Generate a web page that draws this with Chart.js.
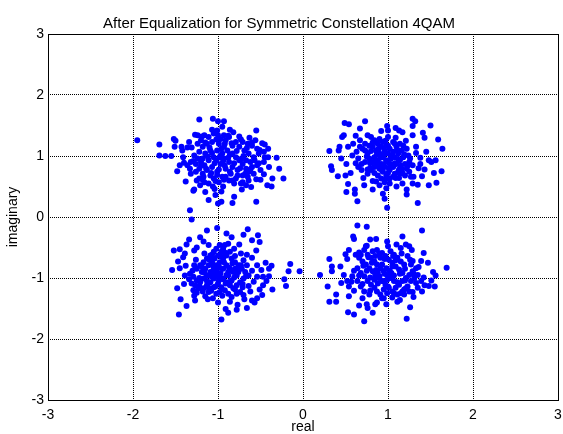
<!DOCTYPE html>
<html>
<head>
<meta charset="utf-8">
<script src="https://cdn.jsdelivr.net/npm/chart.js@4/dist/chart.umd.min.js"></script>
<style>
  html, body { margin: 0; padding: 0; background: #fff; }
  #wrap { width: 563px; height: 434px; }
</style>
</head>
<body>
<div id="wrap"><canvas id="constChart" width="563" height="434"></canvas></div>
<script>
// symbols after equalization, [real, imaginary]
const topLeft = [
  [-1.95,1.26],[-1.69,1.19],[-1.69,1.01],[-1.62,1.00],[-1.55,1.00],[-1.52,1.28],[-1.50,1.25],[-1.51,1.15],
  [-1.43,1.15],[-1.42,1.09],[-1.36,1.14],[-1.31,1.14],[-1.22,1.60],[-1.06,1.61],[-1.00,1.57],[-0.93,1.57],
  [-1.07,1.43],[-1.05,1.37],[-1.27,1.35],[-1.24,1.34],[-1.19,1.32],[-1.11,1.31],[-1.00,1.34],[-0.93,1.34],
  [-0.86,1.43],[-0.82,1.39],[-0.87,1.31],[-0.75,1.32],[-0.63,1.30],[-0.55,1.42],[-0.56,1.26],[-0.48,1.21],
  [-0.45,1.19],[-0.41,1.12],[-0.46,1.07],[-0.41,0.98],[-0.31,0.97],[-0.46,0.90],[-0.28,0.79],[-0.23,0.63],
  [-0.36,0.63],[-0.46,0.70],[-0.50,0.61],[-0.42,0.52],[-0.37,0.50],[-0.55,0.25],[-0.61,0.49],[-0.67,0.52],
  [-0.71,0.57],[-0.81,0.33],[-0.83,0.23],[-0.96,0.25],[-1.00,0.22],[-1.03,0.36],[-1.11,0.28],[-1.15,0.41],
  [-1.04,0.46],[-0.94,0.50],[-0.93,0.61],[-1.28,0.45],[-1.29,0.43],[-1.25,0.60],[-1.32,0.71],[-1.48,0.75],
  [-1.45,0.85],[-1.40,0.89],[-1.33,0.11],
  [-1.28,1.01],[-1.24,0.96],[-1.20,0.90],[-1.16,0.85],[-1.22,0.79],[-1.26,0.74],[-1.18,0.71],[-1.13,0.77],
  [-1.09,0.68],[-1.05,0.63],[-0.99,0.57],[-0.95,0.66],[-1.01,0.74],[-1.07,0.82],[-1.11,0.93],[-1.15,1.04],
  [-1.18,1.15],[-1.13,1.20],[-1.07,1.23],[-0.99,1.20],[-0.93,1.15],[-0.89,1.09],[-0.83,1.04],[-0.79,0.98],
  [-0.75,0.93],[-0.71,0.87],[-0.67,0.79],[-0.64,0.74],[-0.65,0.66],[-0.71,0.68],[-0.77,0.77],[-0.83,0.82],
  [-0.87,0.90],[-0.93,0.96],[-0.97,0.87],[-0.91,0.79],[-0.85,0.71],[-0.79,0.63],[-0.73,0.55],[-0.81,0.55],
  [-0.87,0.60],[-0.95,1.04],[-1.01,1.09],[-1.05,0.98],[-1.09,1.09],[-0.75,1.15],[-0.69,1.09],[-0.64,1.04],
  [-0.58,0.98],[-0.52,1.04],[-0.54,1.12],[-0.60,1.17],[-0.65,1.20],[-0.71,1.23],[-0.79,1.23],[-0.83,1.17],
  [-0.54,0.85],[-0.60,0.82],[-0.50,0.77],[-0.58,0.71],[-0.64,0.60],[-0.67,0.93],[-0.62,0.90],[-1.24,1.20],
  [-1.20,1.26],[-1.16,1.34],[-0.97,1.28],[-0.91,1.26],[-1.01,1.42],[-0.95,1.48],[-1.22,0.63],[-1.16,0.57],
  [-1.11,0.55],[-1.36,0.85],[-1.32,0.90],[-1.26,0.87],[-1.18,0.96],
  [-1.02,0.93],[-0.97,1.01],[-0.88,0.97],[-0.92,0.84],[-1.04,0.88],[-1.12,0.99],[-0.78,1.08],[-0.70,1.00],
  [-0.74,0.80],[-0.86,0.74],[-0.99,0.78],[-1.08,0.72],[-1.20,0.84],[-1.29,0.92],[-1.22,1.07],[-1.10,1.14],
  [-0.96,1.12],[-0.84,1.21],[-0.66,1.13],[-0.57,0.93],[-0.62,0.78],[-0.77,0.68],[-0.91,0.66],[-1.03,0.59],
  [-1.17,0.66],[-1.33,0.79],[-1.41,0.98],[-1.34,1.23],[-1.15,1.22],[-1.02,1.27],[-0.88,1.33],[-0.73,1.27],
  [-0.60,1.22],[-0.51,1.10],[-0.45,0.98],[-0.52,0.88],[-0.68,0.71],[-0.83,0.60],[-1.06,0.50],[-1.21,0.52],
  [-0.98,0.98],[-0.94,0.92],[-1.07,1.05],[-0.81,0.88],[-0.86,1.02],[-0.73,0.95],[-1.14,0.79],[-1.01,0.69],
  [-0.92,1.20],[-1.18,0.61],[-0.96,0.42],[-0.72,0.45],[-0.55,0.62],[-1.38,0.58],[-0.40,0.82]
];
const topRight = [
  [0.31,1.08],[0.49,1.54],[0.54,1.52],[0.46,1.31],[0.48,1.34],[0.43,1.15],[0.42,1.09],[0.33,0.83],
  [0.34,0.77],[0.41,0.67],[0.45,0.96],[0.51,0.87],[0.53,0.54],[0.51,0.41],[0.61,0.45],[0.61,0.38],
  [0.64,0.26],[0.59,1.20],[0.67,1.45],[0.73,1.57],[0.76,1.34],[0.80,1.31],[0.92,1.41],[0.99,1.49],
  [1.00,1.42],[1.09,1.46],[1.13,1.42],[1.17,1.39],[1.29,1.61],[1.32,1.57],[1.29,1.49],[1.29,1.34],
  [1.41,1.38],[1.43,1.30],[1.50,1.50],[1.59,1.27],[1.64,1.12],[1.33,1.15],[1.24,1.01],[1.38,0.97],
  [1.38,0.87],[1.48,0.93],[1.51,0.90],[1.56,0.93],[1.43,0.78],[1.54,0.72],[1.63,0.75],[1.57,0.56],
  [1.48,0.52],[1.35,0.53],[1.29,0.55],[1.35,0.23],[1.22,0.45],[1.22,0.37],[0.99,0.15],[0.96,0.30],
  [0.94,0.38],[0.90,0.52],[1.02,0.55],[1.09,0.64],[1.13,0.64],[0.82,0.59],[0.76,0.78],[0.69,0.77],
  [0.73,1.09],[0.76,1.04],[0.78,0.96],[0.82,0.90],[0.86,0.85],[0.90,0.79],[0.94,0.74],[0.98,0.68],
  [1.02,0.77],[1.06,0.82],[1.10,0.87],[1.14,0.93],[1.18,0.98],[1.20,0.87],[1.16,0.79],[1.12,0.74],
  [1.08,0.71],[1.02,0.87],[0.98,0.93],[0.94,0.98],[0.90,1.04],[0.86,1.09],[0.82,1.15],[0.88,1.20],
  [0.94,1.23],[0.98,1.17],[1.02,1.12],[1.06,1.07],[1.10,1.15],[1.14,1.20],[1.18,1.17],[1.22,1.12],
  [1.06,1.23],[1.00,1.31],[0.90,1.28],[0.84,1.26],[0.73,1.20],[0.67,1.15],[0.63,1.07],[0.65,0.96],
  [0.69,0.87],[0.73,0.90],[0.67,1.26],[0.78,1.17],[0.92,0.87],[0.96,0.82],[1.00,1.04],[1.04,0.98],
  [0.88,0.93],[0.84,0.98],[1.22,0.79],[1.25,0.74],[1.27,0.66],[1.20,0.68],[1.14,0.71],[0.92,0.63],
  [0.88,0.68],[0.96,0.57],[1.08,0.98],[1.12,1.04],[1.25,0.90],[1.29,0.85],[0.65,0.82],[0.76,0.71],
  [0.80,0.77],[0.96,1.09],[0.92,1.15],[1.16,1.09],[0.84,0.82],[1.02,0.63],
  [0.98,0.91],[1.03,0.95],[0.95,0.86],[1.08,0.88],[0.91,0.97],[0.87,0.89],[1.05,1.01],[1.12,0.95],
  [1.15,0.84],[1.01,0.80],[0.93,0.76],[0.84,0.72],[0.79,0.88],[0.75,0.99],[0.80,1.08],[0.89,1.12],
  [1.00,1.17],[1.11,1.10],[1.19,1.03],[1.26,0.96],[1.23,0.84],[1.17,0.72],[1.06,0.66],[0.97,0.62],
  [0.86,0.58],[0.71,0.64],[0.62,0.88],[0.58,1.01],[0.70,1.12],[0.82,1.22],[0.97,1.25],[1.09,1.30],
  [1.21,1.25],[1.33,1.05],[1.36,0.80],[1.30,0.66],[1.10,0.50],[0.98,0.47],[0.82,0.45],[0.56,0.72],
  [0.53,1.15],[0.62,1.33],[0.95,1.02],[1.04,0.84],[0.90,0.82],[1.00,0.72],[1.13,0.78],[0.79,0.80],
  [0.87,1.03],[1.08,1.20],[1.40,0.67],[0.72,0.52],[1.45,1.07],[0.50,0.68],[1.17,0.55]
];
const bottomLeft = [
  [-1.31,-0.04],[-1.13,-0.22],[-1.01,-0.18],[-1.21,-0.33],[-1.17,-0.40],[-1.34,-0.37],[-1.37,-0.45],[-1.52,-0.55],
  [-1.45,-0.53],[-1.39,-0.60],[-1.41,-0.66],[-1.47,-0.73],[-1.45,-0.84],[-1.54,-0.87],[-1.28,-0.55],[-1.28,-0.79],
  [-1.33,-0.93],[-1.48,-1.17],[-1.37,-1.46],[-1.46,-1.60],[-1.27,-1.37],[-1.25,-1.24],[-1.15,-1.30],[-1.11,-1.16],
  [-1.06,-1.33],[-1.00,-1.40],[-0.91,-1.51],[-0.88,-1.57],[-0.96,-1.68],[-0.78,-1.52],[-0.77,-1.44],[-0.66,-1.49],
  [-0.57,-1.40],[-0.60,-1.37],[-0.54,-1.33],[-0.48,-1.28],[-0.51,-1.19],[-0.47,-1.12],[-0.36,-1.19],[-0.64,-1.13],
  [-0.71,-1.15],[-0.65,-0.20],[-0.53,-0.30],[-0.51,-0.41],[-0.60,-0.38],[-0.70,-0.29],[-0.84,-0.33],[-0.90,-0.27],
  [-0.81,-0.52],[-0.73,-0.60],[-0.60,-0.67],[-0.54,-0.79],[-0.44,-0.75],[-0.49,-0.87],[-0.40,-0.85],[-0.37,-0.80],
  [-0.40,-0.97],[-0.47,-0.98],[-0.54,-0.98],[-0.22,-1.02],[-0.20,-1.13],[-0.17,-0.89],[-0.15,-0.77],[-0.04,-0.89],
  [-1.29,-0.98],[-1.25,-1.04],[-1.31,-1.09],[-1.27,-1.12],[-1.21,-1.07],[-1.17,-1.01],[-1.13,-0.96],[-1.09,-0.90],
  [-1.05,-0.85],[-1.02,-0.79],[-0.98,-0.74],[-0.94,-0.68],[-0.90,-0.63],[-0.86,-0.57],[-0.94,-0.52],[-0.98,-0.46],
  [-1.02,-0.52],[-1.05,-0.57],[-1.09,-0.63],[-1.13,-0.68],[-1.17,-0.74],[-1.21,-0.79],[-1.25,-0.85],[-1.19,-0.90],
  [-1.15,-0.85],[-1.11,-0.79],[-1.07,-0.74],[-1.04,-0.68],[-1.00,-0.63],[-0.96,-0.57],[-0.92,-0.46],[-0.88,-0.44],
  [-0.84,-0.68],[-0.80,-0.74],[-0.76,-0.79],[-0.72,-0.85],[-0.68,-0.90],[-0.64,-0.96],[-0.70,-1.01],[-0.74,-1.07],
  [-0.78,-1.12],[-0.82,-1.17],[-0.86,-1.12],[-0.90,-1.07],[-0.94,-1.01],[-0.98,-0.96],[-1.02,-0.90],[-1.05,-1.01],
  [-1.09,-1.07],[-1.13,-1.12],[-1.17,-1.17],[-1.11,-1.23],[-1.05,-1.15],[-1.00,-1.09],[-0.96,-1.15],[-0.92,-1.20],
  [-0.88,-1.26],[-0.84,-1.31],[-0.78,-1.26],[-0.74,-1.23],[-0.70,-1.28],[-0.78,-0.96],[-0.82,-0.90],[-0.86,-0.85],
  [-0.90,-0.79],[-0.94,-0.85],[-0.88,-0.96],[-0.84,-1.04],[-0.80,-0.85],[-0.76,-0.90],[-1.23,-1.17],[-1.29,-1.20],
  [-1.02,-1.26],[-0.98,-1.23],[-0.66,-0.79],[-0.70,-0.71],
  [-0.97,-0.92],[-1.03,-0.87],[-0.90,-0.95],[-0.99,-1.04],[-1.08,-0.97],[-0.87,-0.83],[-0.93,-0.74],[-1.06,-0.79],
  [-1.16,-0.91],[-1.22,-1.00],[-1.13,-1.05],[-1.03,-1.14],[-0.91,-1.09],[-0.81,-0.99],[-0.77,-0.88],[-0.83,-0.76],
  [-0.96,-0.65],[-1.10,-0.70],[-1.19,-0.82],[-1.30,-0.88],[-1.34,-1.02],[-1.22,-1.13],[-1.08,-1.21],[-0.95,-1.29],
  [-0.80,-1.19],[-0.71,-1.10],[-0.67,-0.97],[-0.73,-0.79],[-0.80,-0.64],[-0.92,-0.58],[-1.07,-0.62],[-1.16,-0.60],
  [-1.26,-0.70],[-1.38,-0.80],[-1.39,-0.96],[-1.40,-1.10],[-1.28,-1.29],[-1.12,-1.35],[-0.86,-1.39],[-0.69,-1.35],
  [-0.62,-1.22],[-0.58,-1.06],[-0.60,-0.88],[-0.66,-0.62],[-0.75,-0.45],[-1.11,-0.46],[-1.25,-0.50],[-0.88,-0.90],
  [-1.01,-0.97],[-0.94,-1.02],[-1.05,-0.93],[-0.85,-1.05],[-1.18,-1.22],[-0.98,-0.83],[-0.55,-0.55],[-1.44,-1.35],
  [-0.43,-1.05]
];
const bottomRight = [
  [0.20,-0.95],[0.31,-0.69],[0.34,-0.81],[0.34,-0.89],[0.29,-1.14],[0.39,-1.27],[0.39,-1.39],[0.31,-1.39],
  [0.54,-1.30],[0.53,-1.56],[0.60,-1.60],[0.72,-1.71],[0.64,-0.14],[0.75,-0.16],[0.59,-0.32],[0.60,-0.36],
  [0.79,-0.37],[0.86,-0.36],[0.99,-0.40],[1.00,-0.48],[0.74,-0.48],[1.17,-0.32],[1.21,-0.45],[1.25,-0.48],
  [1.15,-0.51],[1.40,-0.22],[1.42,-0.59],[1.39,-0.72],[1.29,-0.72],[1.33,-0.84],[1.69,-0.83],[1.53,-0.90],
  [1.56,-0.96],[1.51,-1.04],[1.55,-1.14],[1.48,-1.13],[1.39,-1.05],[1.40,-1.22],[1.35,-1.16],[1.29,-1.23],
  [1.26,-1.48],[1.22,-1.67],[1.11,-1.39],[1.05,-1.32],[0.98,-1.43],[0.95,-1.33],[0.82,-1.57],[0.75,-1.43],
  [0.76,-1.49],[0.85,-1.43],[0.54,-1.14],[0.52,-1.05],[0.58,-0.97],[0.48,-0.95],[0.44,-0.81],[0.52,-0.69],
  [0.54,-0.54],[0.50,-0.61],
  [0.62,-0.62],[0.66,-0.67],[0.70,-0.73],[0.74,-0.78],[0.78,-0.84],[0.82,-0.89],[0.85,-0.95],[0.89,-1.00],
  [0.93,-1.05],[0.97,-1.11],[1.01,-1.16],[1.05,-1.22],[1.09,-1.16],[1.13,-1.11],[1.17,-1.05],[1.21,-1.00],
  [1.25,-0.95],[1.29,-0.89],[1.27,-1.05],[1.23,-1.14],[1.19,-1.19],[1.15,-1.25],[1.11,-1.27],[1.07,-1.05],
  [1.03,-1.00],[0.99,-0.95],[0.95,-0.89],[0.91,-0.84],[0.87,-0.78],[0.84,-0.73],[0.80,-0.67],[0.76,-0.62],
  [0.82,-0.56],[0.87,-0.54],[0.93,-0.59],[0.97,-0.64],[1.01,-0.70],[1.05,-0.75],[1.09,-0.81],[1.13,-0.86],
  [1.17,-0.92],[1.11,-0.67],[1.15,-0.73],[1.19,-0.78],[1.23,-0.64],[1.07,-0.62],[1.03,-0.56],[0.64,-0.84],
  [0.68,-0.92],[0.72,-0.97],[0.76,-1.05],[0.80,-1.11],[0.84,-1.16],[0.87,-1.22],[0.91,-1.27],[0.95,-1.19],
  [0.99,-1.25],[0.64,-1.05],[0.68,-1.14],[0.72,-1.22],[0.78,-1.27],[0.68,-0.62],[0.72,-0.54],[1.19,-1.27],
  [1.25,-1.22],[1.31,-1.00],[1.35,-0.95],[1.27,-0.78],[0.91,-0.67],[0.85,-0.64],
  [0.96,-0.93],[1.02,-0.88],[0.90,-0.97],[0.99,-1.03],[1.07,-0.96],[0.86,-0.87],[0.93,-0.78],[1.05,-0.81],
  [1.14,-0.93],[1.20,-1.04],[1.11,-1.07],[1.00,-1.14],[0.88,-1.09],[0.79,-0.99],[0.75,-0.88],[0.81,-0.75],
  [0.96,-0.69],[1.09,-0.71],[1.20,-0.85],[1.30,-0.93],[1.33,-1.08],[1.21,-1.17],[1.07,-1.25],[0.93,-1.33],
  [0.79,-1.21],[0.70,-1.10],[0.66,-0.96],[0.71,-0.80],[0.77,-0.66],[0.90,-0.60],[1.06,-0.64],[1.16,-0.60],
  [1.26,-0.70],[1.36,-0.82],[1.42,-0.99],[1.43,-1.12],[1.30,-1.31],[1.14,-1.36],[0.87,-1.40],[0.70,-1.33],
  [0.60,-1.21],[0.57,-1.06],[0.60,-0.88],[0.66,-0.58],[0.75,-0.47],[1.10,-0.45],[1.28,-0.54],[0.88,-0.91],
  [1.01,-0.99],[0.94,-1.05],[1.04,-0.92],[0.84,-1.03],[1.17,-1.22],[0.98,-0.84],[0.45,-1.08],[1.47,-0.75],
  [0.66,-1.45]
];
const xTicks = [-3, -2, -1, 0, 1, 2, 3];
const yTicks = [-3, -2, -1, 0, 1, 2, 3];

const symbols = [...topLeft, ...topRight, ...bottomLeft, ...bottomRight]
  .map(([re, im]) => ({ x: re, y: im }));

const FONT = 'Arial, "Liberation Sans", Helvetica, sans-serif';

// solid box around the axes, like the matlab frame
const frameBox = {
  id: 'frameBox',
  afterDraw(chart) {
    const { ctx, chartArea: a } = chart;
    ctx.save();
    ctx.strokeStyle = '#000';
    ctx.lineWidth = 1;
    ctx.setLineDash([]);
    ctx.strokeRect(a.left + 0.5, a.top + 0.5, a.right - a.left, a.bottom - a.top);
    ctx.restore();
  }
};

const axisCommon = {
  type: 'linear',
  min: -3,
  max: 3,
  grid: {
    color: '#000',
    lineWidth: 1,
    drawTicks: false
  },
  // dotted grid lines
  border: { display: false, dash: [1, 1] },
  ticks: {
    color: '#000',
    font: { family: FONT, size: 14 },
    stepSize: 1
  }
};

new Chart(document.getElementById('constChart'), {
  type: 'scatter',
  data: {
    datasets: [{
      data: symbols,
      backgroundColor: '#0000ff',
      borderColor: '#0000ff',
      pointRadius: 3,
      pointBorderWidth: 0
    }]
  },
  options: {
    responsive: false,
    animation: false,
    layout: { padding: { left: 0, right: 5, top: 0, bottom: 0 } },
    plugins: {
      legend: { display: false },
      tooltip: { enabled: false },
      title: {
        display: true,
        text: 'After Equalization for Symmetric Constellation 4QAM',
        color: '#000',
        font: { family: FONT, size: 15, weight: 'normal' },
        padding: { top: 15, bottom: 1 }
      }
    },
    scales: {
      x: {
        ...axisCommon,
        ticks: { ...axisCommon.ticks, padding: 7, callback: (v) => xTicks.includes(v) ? String(v) : '' },
        title: {
          display: true,
          text: 'real',
          color: '#000',
          font: { family: FONT, size: 14, lineHeight: 1 },
          padding: { top: 0, bottom: 0 }
        },
        afterFit: (scale) => {
          scale.height = 34;
          // let the last tick label run to the canvas edge, as in the original
          scale.paddingRight = 0;
          scale.paddingLeft = 0;
        }
      },
      y: {
        ...axisCommon,
        ticks: { ...axisCommon.ticks, padding: 4, callback: (v) => yTicks.includes(v) ? String(v) : '' },
        title: {
          display: true,
          text: 'imaginary',
          color: '#000',
          font: { family: FONT, size: 14 },
          padding: { top: 5, bottom: 2 }
        },
        afterFit: (scale) => { scale.width = 48; }
      }
    }
  },
  plugins: [frameBox]
});
</script>
</body>
</html>
